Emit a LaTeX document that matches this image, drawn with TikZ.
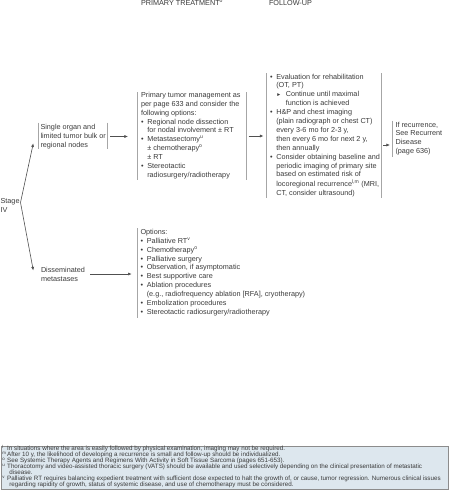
\documentclass[tikz,border=0pt]{standalone}
\usepackage{fontspec}
\setmainfont{Liberation Sans}
\usetikzlibrary{arrows.meta}
\definecolor{txt}{HTML}{3A3A3A}
\definecolor{barc}{HTML}{A6A6A6}
\definecolor{arrc}{HTML}{505050}
\definecolor{fnfill}{HTML}{DDE7EE}
\definecolor{fnline}{HTML}{8C8C8C}
\newcommand\bul{\makebox[6.3pt][l]{•}}
\newcommand\ind{\hspace*{6.3pt}}
\newcommand\subbul{\makebox[9.5pt][l]{{\fontsize{5}{5}\selectfont ►}}}
\newcommand\fsup[1]{\textsuperscript{#1}}
\newcommand\fnm[1]{\makebox[4.8pt][l]{\textsuperscript{#1}}}
\begin{document}
\begin{tikzpicture}[x=1pt,y=-1pt,
  every node/.style={inner sep=0pt, outer sep=0pt, text=txt, anchor=base west,
    font=\fontsize{7.25}{8.9}\selectfont},
  bar/.style={draw=barc, line width=0.8pt},
  conn/.style={draw=arrc, line width=0.6pt, -{Latex[length=3.6pt,width=3pt]}},
  fntext/.style={font=\fontsize{6.25}{5.95}\selectfont}
  ]
\useasboundingbox (0,0) rectangle (450,490);

% headers
\node (hprim) at (141,5.8) {PRIMARY TREATMENT\fsup{o}};
\node (hfol) at (269,5.8) {FOLLOW-UP};

% stage
\node (stage) at (0.6,203.3) {\begin{tabular}[t]{@{}l@{}}Stage\\IV\end{tabular}};

% single organ
\node (single) at (40.5,129.8) {\begin{tabular}[t]{@{}l@{}}Single organ and\\limited tumor bulk or\\regional nodes\end{tabular}};
\draw[bar] (38,122.7) -- (38,148.5);
\draw[bar] (107.7,122.7) -- (107.7,148.5);

% disseminated
\node (dissem) at (41,272.3) {\begin{tabular}[t]{@{}l@{}}Disseminated\\metastases\end{tabular}};

% primary treatment box
\node (prim) at (141,97.3) {\begin{tabular}[t]{@{}l@{}}
Primary tumor management as\\
per page 633 and consider the\\
following options:\\
\bul Regional node dissection\\
\ind for nodal involvement ± RT\\
\bul Metastasectomy\fsup{u}\\
\ind ± chemotherapy\fsup{o}\\
\ind ± RT\\
\bul Stereotactic\\
\ind radiosurgery/radiotherapy
\end{tabular}};
\draw[bar] (137.5,92) -- (137.5,179.5);
\draw[bar] (246.7,92) -- (246.7,179.5);

% follow-up box
\node (fol) at (270,79) {\begin{tabular}[t]{@{}l@{}}
\bul Evaluation for rehabilitation\\
\ind (OT, PT)\\
\ind\subbul Continue until maximal\\
\ind\hspace*{9.5pt}function is achieved\\
\bul H\&P and chest imaging\\
\ind (plain radiograph or chest CT)\\
\ind every 3-6 mo for 2-3 y,\\
\ind then every 6 mo for next 2 y,\\
\ind then annually\\
\bul Consider obtaining baseline and\\
\ind periodic imaging of primary site\\
\ind based on estimated risk of\\
\ind locoregional recurrence\fsup{l,m} (MRI,\\
\ind CT, consider ultrasound)
\end{tabular}};
\draw[bar] (266,73) -- (266,197.5);
\draw[bar] (381,73) -- (381,197.5);

% recurrence box
\node (recur) at (395.5,127) {\begin{tabular}[t]{@{}l@{}}If recurrence,\\See Recurrent\\Disease\\(page 636)\end{tabular}};
\draw[bar] (392.3,120.5) -- (392.3,157);

% options box
\node (opts) at (140.5,234.3) {\begin{tabular}[t]{@{}l@{}}
Options:\\
\bul Palliative RT\fsup{v}\\
\bul Chemotherapy\fsup{o}\\
\bul Palliative surgery\\
\bul Observation, if asymptomatic\\
\bul Best supportive care\\
\bul Ablation procedures\\
\ind (e.g., radiofrequency ablation [RFA], cryotherapy)\\
\bul Embolization procedures\\
\bul Stereotactic radiosurgery/radiotherapy
\end{tabular}};
\draw[bar] (137.5,228) -- (137.5,318);

% connectors
\coordinate (vtx) at (20.5,202.5);
\coordinate (singleIn) at (33.3,143.3);
\coordinate (dissemIn) at (33.3,270.5);
\coordinate (singleOut) at (110,136.5);
\coordinate (primIn) at (128,136.5);
\coordinate (primOut) at (248.5,136);
\coordinate (folIn) at (263.5,136);
\coordinate (folOut) at (383,145);
\coordinate (recurIn) at (390,145);
\coordinate (dissemOut) at (90,274);
\coordinate (optsIn) at (131.7,274);
\draw[conn] (vtx) -- (singleIn);
\draw[conn] (vtx) -- (dissemIn);
\draw[conn] (singleOut) -- (primIn);
\draw[conn] (primOut) -- (folIn);
\draw[conn] (folOut) -- (recurIn);
\draw[conn] (dissemOut) -- (optsIn);

% footnotes
\node[draw=fnline, fill=fnfill, line width=0.7pt, anchor=north west,
  minimum width=447.5pt, minimum height=42.5pt] (fnbox) at (1,446.5) {};
\node[fntext] (fn) at (2.4,450.8) {\vtop{\lineskiplimit=-10pt\baselineskip=5.95pt
\hbox{\fnm{l}In situations where the area is easily followed by physical examination, imaging may not be required.}
\hbox{\fnm{m}After 10 y, the likelihood of developing a recurrence is small and follow-up should be individualized.}
\hbox{\fnm{o}See Systemic Therapy Agents and Regimens With Activity in Soft Tissue Sarcoma (pages 651-653).}
\hbox{\fnm{u}Thoracotomy and video-assisted thoracic surgery (VATS) should be available and used selectively depending on the clinical presentation of metastatic}
\hbox{\hspace*{7pt}disease.}
\hbox{\fnm{v}Palliative RT requires balancing expedient treatment with sufficient dose expected to halt the growth of, or cause, tumor regression. Numerous clinical issues}
\hbox{\hspace*{7pt}regarding rapidity of growth, status of systemic disease, and use of chemotherapy must be considered.}
}};
\end{tikzpicture}
\end{document}
